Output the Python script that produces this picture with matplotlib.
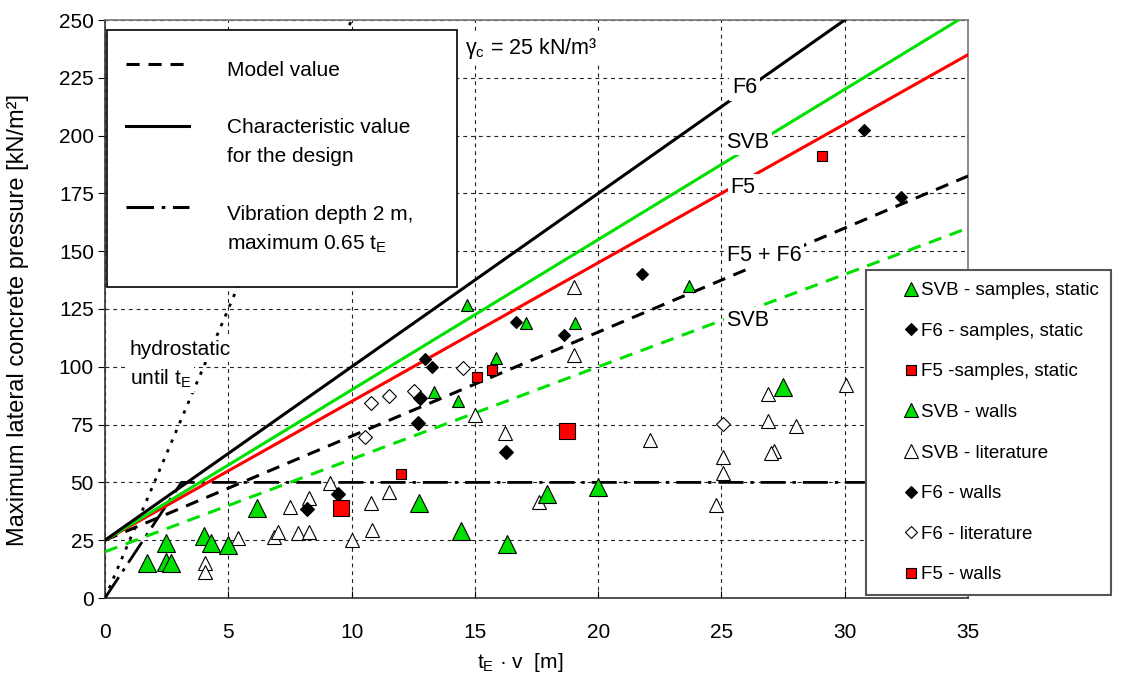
import matplotlib
matplotlib.use("Agg")
import matplotlib.pyplot as plt
from matplotlib.lines import Line2D
from matplotlib.patches import Rectangle

plt.rcParams["font.family"] = ["Liberation Sans", "DejaVu Sans"]
plt.rcParams["mathtext.fontset"] = "custom"
plt.rcParams["mathtext.rm"] = "Liberation Sans"
plt.rcParams["mathtext.it"] = "Liberation Sans:italic"

GREEN = "#00e000"
RED = "#ff0000"

# design / model lines (endpoints)
f6_char_x, f6_char_y = [0, 30], [25, 250]
svb_char_x, svb_char_y = [0, 35], [25, 252.5]
f5_char_x, f5_char_y = [0, 35], [25, 235]
f5f6_model_x, f5f6_model_y = [0, 35], [25, 182.5]
svb_model_x, svb_model_y = [0, 35], [20, 160]
vib_x, vib_y = [0, 3.1, 35], [0, 50, 50]
hydro_x, hydro_y = [0, 10], [0, 250]

# measured points
svb_samples_x = [14.7, 17.07, 19.06, 15.86, 13.35, 14.33, 23.68]
svb_samples_y = [126.7, 119.1, 119.1, 103.7, 89.2, 85.3, 134.9]

f6_samples_x = [12.98, 13.25, 16.67, 18.61, 21.76, 30.78, 32.3]
f6_samples_y = [103.2, 99.8, 119.5, 113.7, 140.1, 202.4, 173.6]

f5_samples_x = [12.0, 15.1, 15.68, 29.06]
f5_samples_y = [53.6, 95.7, 98.6, 191.2]

svb_walls_x = [1.69, 2.47, 2.47, 2.66, 4.01, 4.30, 5.0, 6.18, 12.75, 14.42,
               17.91, 20.0, 16.29, 27.48]
svb_walls_y = [15.0, 23.6, 15.7, 15.0, 26.8, 23.6, 22.9, 38.8, 41.2, 29.1,
               45.0, 47.9, 23.4, 91.1]

svb_lit_x = [4.06, 4.06, 5.41, 6.86, 7.03, 7.84, 8.29, 7.50, 8.29, 9.12,
             10.0, 10.77, 10.84, 11.53, 15.0, 19.03, 19.03, 16.22, 22.1, 17.61,
             26.87, 26.87, 28.04, 27.14, 27.03, 25.07, 25.07, 24.78, 30.05]
svb_lit_y = [15.0, 11.4, 25.8, 26.2, 28.7, 28.0, 28.7, 39.2, 43.1, 49.9,
             25.1, 41.2, 29.4, 46.0, 79.3, 134.6, 105.1, 71.2, 68.3, 41.4,
             88.2, 76.7, 74.4, 63.7, 62.9, 61.1, 53.9, 40.2, 92.1]

f6_walls_x = [8.18, 9.46, 12.71, 12.77, 16.26]
f6_walls_y = [38.6, 45.0, 75.5, 86.4, 63.3]

f6_lit_x = [10.54, 10.77, 11.53, 12.53, 14.53, 25.07]
f6_lit_y = [69.5, 84.5, 87.4, 89.7, 99.3, 75.3]

f5_walls_x = [9.56, 18.72]
f5_walls_y = [38.8, 72.2]

legend_labels = ["SVB - samples, static", "F6 - samples, static", "F5 -samples, static",
                 "SVB - walls", "SVB - literature", "F6 - walls", "F6 - literature",
                 "F5 - walls"]

fig = plt.figure(figsize=(11.26, 6.76), dpi=100)
ax = fig.add_axes([105 / 1126, 1 - 598 / 676, 863 / 1126, 578 / 676])

dash = (0, (4.3, 2.9))
dashdot = (0, (9, 2.5, 1.2, 2.5))

ax.plot(hydro_x, hydro_y, color="black", lw=2.0, ls=(0, (1.2, 2.6)), zorder=3)
ax.plot(vib_x, vib_y, color="black", lw=2.0, ls=dashdot, zorder=3)
ax.plot(svb_model_x, svb_model_y, color=GREEN, lw=2.2, ls=dash, zorder=3)
ax.plot(f5f6_model_x, f5f6_model_y, color="black", lw=2.2, ls=dash, zorder=3)
ax.plot(f5_char_x, f5_char_y, color=RED, lw=2.2, zorder=3)
ax.plot(svb_char_x, svb_char_y, color=GREEN, lw=2.2, zorder=3)
ax.plot(f6_char_x, f6_char_y, color="black", lw=2.2, zorder=3)

mk = dict(ls="none", mec="black", mew=0.8, zorder=4)
ax.plot(svb_lit_x, svb_lit_y, marker="^", ms=10, mfc="white", **mk)
ax.plot(f6_lit_x, f6_lit_y, marker="D", ms=7.5, mfc="white", **mk)
ax.plot(svb_walls_x, svb_walls_y, marker="^", ms=13, mfc=GREEN, **mk)
ax.plot(f6_walls_x, f6_walls_y, marker="D", ms=7, mfc="black", **mk)
ax.plot(f5_walls_x, f5_walls_y, marker="s", ms=11.5, mfc=RED, **mk)
ax.plot(svb_samples_x, svb_samples_y, marker="^", ms=8.5, mfc=GREEN, **mk)
ax.plot(f6_samples_x, f6_samples_y, marker="D", ms=6.5, mfc="black", **mk)
ax.plot(f5_samples_x, f5_samples_y, marker="s", ms=7.8, mfc=RED, **mk)

box = dict(facecolor="white", edgecolor="none", pad=2)
for x, y, s in [(25.95, 220.6, "F6"), (26.07, 197.2, "SVB"), (25.87, 177.5, "F5"),
                (26.72, 148.3, "F5 + F6"), (26.07, 120.2, "SVB")]:
    ax.text(x, y, s, ha="center", va="center", fontsize=15.5, bbox=box, zorder=5)

ax.text(1.0, 105.1, "hydrostatic", fontsize=15, va="baseline", bbox=box, zorder=5)
ax.text(1.0, 92.1, r"until t$_\mathrm{E}$", fontsize=15, va="baseline", bbox=box, zorder=5)
ax.text(14.6, 235.5, r"γ$_\mathrm{c}$ = 25 kN/m³", fontsize=15.5, va="baseline", bbox=box, zorder=5)

ax.set_xlim(0, 35)
ax.set_ylim(0, 250)
ax.set_xticks(range(0, 36, 5))
ax.set_yticks(range(0, 251, 25))
ax.grid(True, color="#222222", lw=0.8, ls=(0, (3.5, 3.5)), zorder=1)
ax.set_axisbelow(True)
ax.tick_params(axis="x", direction="in", length=5, pad=18, labelsize=15)
ax.tick_params(axis="y", direction="out", length=5, pad=3, labelsize=15)
for side in ["left", "bottom"]:
    ax.spines[side].set_color("#333333")
    ax.spines[side].set_linewidth(1.2)
for side in ["top", "right"]:
    ax.spines[side].set_color("#777777")
    ax.spines[side].set_linewidth(1.2)

ax.set_ylabel("Maximum lateral concrete pressure [kN/m²]", fontsize=17)
ax.yaxis.label.set_va("center")
ax.yaxis.set_label_coords(-(105 - 18) / 863, (598 - 320) / 578)
ax.set_xlabel(r"t$_\mathrm{E}$ · v  [m]", fontsize=15)
ax.xaxis.label.set_va("center")
ax.xaxis.set_label_coords((520 - 105) / 863, -(662 - 598) / 578)

# left legend (line styles), drawn in axes coordinates
def ay(py):
    return (598 - py) / 578

def axx(px):
    return (px - 105) / 863

ax.add_patch(Rectangle((axx(107), ay(287)), axx(457) - axx(107), ay(30) - ay(287),
                       transform=ax.transAxes, facecolor="white", edgecolor="black",
                       lw=1.2, zorder=10))
for py, ls in [(64, dash), (126, "-"), (207, dashdot)]:
    ax.add_line(Line2D([axx(126), axx(189)], [ay(py), ay(py)], transform=ax.transAxes,
                       color="black", lw=2.2, ls=ls, zorder=11))
for py, s in [(76, "Model value"), (133, "Characteristic value"), (162, "for the design"),
              (220, "Vibration depth 2 m,"), (250, r"maximum 0.65 t$_\mathrm{E}$")]:
    ax.text(axx(227), ay(py), s, transform=ax.transAxes, fontsize=15, va="baseline",
            zorder=11)

# right legend (markers)
proxy = [
    Line2D([], [], ls="none", marker="^", ms=9.4, mfc=GREEN, mec="black", mew=0.8),
    Line2D([], [], ls="none", marker="D", ms=6.2, mfc="black", mec="black", mew=0.8),
    Line2D([], [], ls="none", marker="s", ms=7.9, mfc=RED, mec="black", mew=0.8),
    Line2D([], [], ls="none", marker="^", ms=9.4, mfc=GREEN, mec="black", mew=0.8),
    Line2D([], [], ls="none", marker="^", ms=9.4, mfc="white", mec="black", mew=0.8),
    Line2D([], [], ls="none", marker="D", ms=6.2, mfc="black", mec="black", mew=0.8),
    Line2D([], [], ls="none", marker="D", ms=6.2, mfc="white", mec="black", mew=0.8),
    Line2D([], [], ls="none", marker="s", ms=7.9, mfc=RED, mec="black", mew=0.8),
]
leg = ax.legend(proxy, legend_labels, loc="upper left",
                bbox_to_anchor=(866 / 1126, 1 - 270 / 676), bbox_transform=fig.transFigure,
                borderaxespad=0, fontsize=13.5, handlelength=3.5, handletextpad=-1.2,
                labelspacing=1.25, borderpad=0.65, fancybox=False, framealpha=1,
                edgecolor="#555555")
leg.get_frame().set_linewidth(1.5)
leg.set_zorder(12)

fig.savefig("out.png", dpi=100)
